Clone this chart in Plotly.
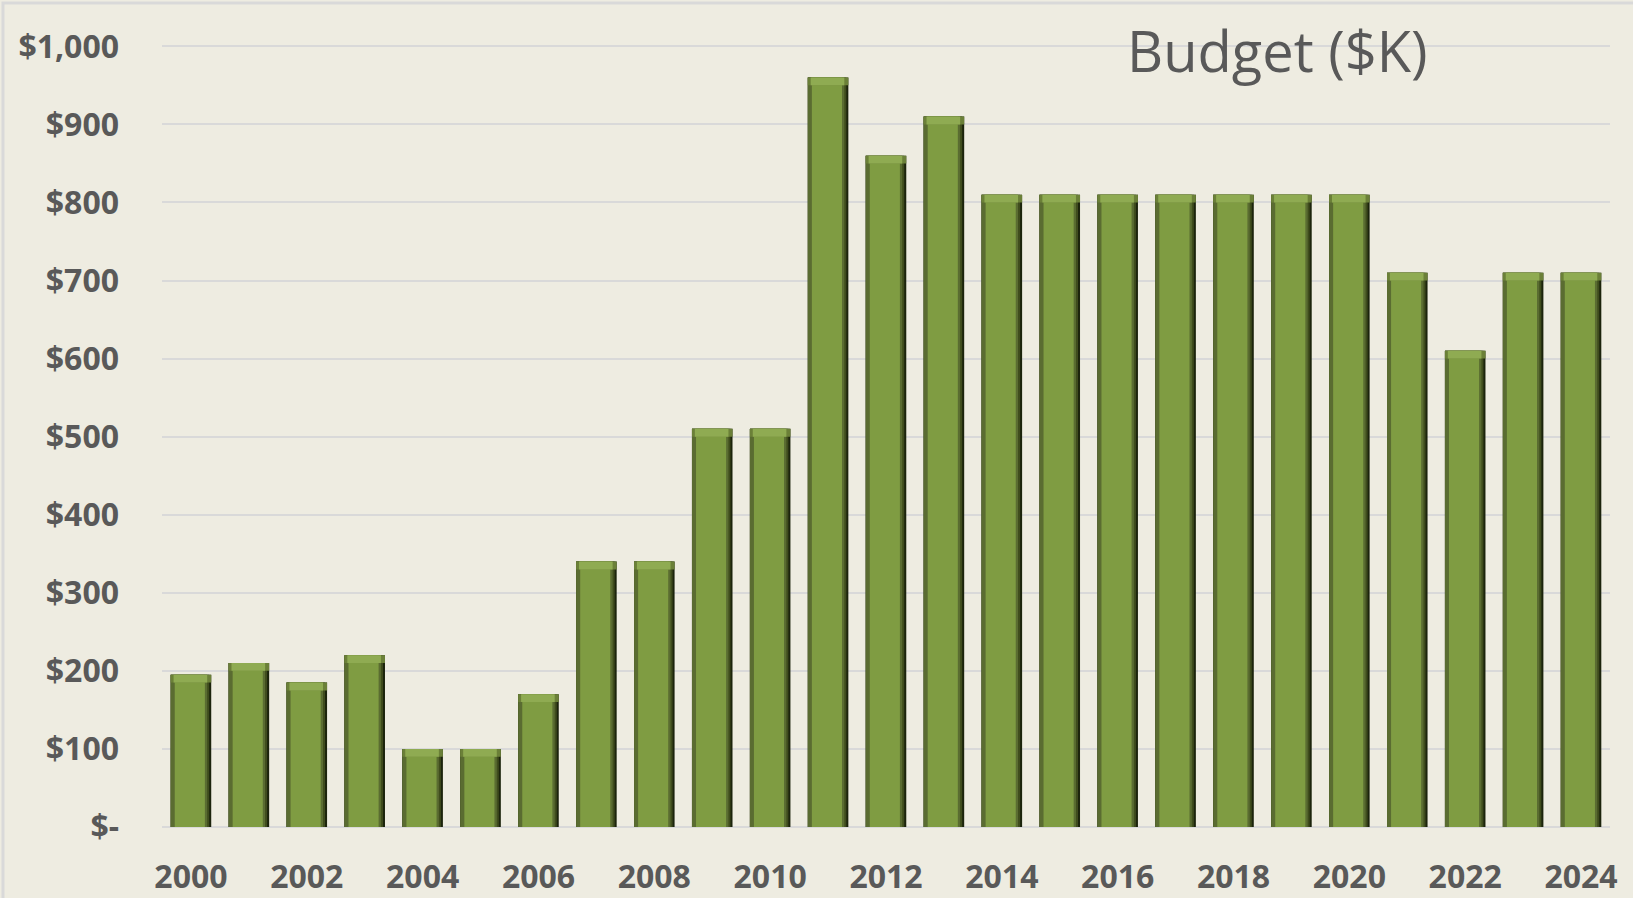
import plotly.graph_objects as go

years = list(range(2000, 2025))
budget = [195, 210, 185, 220, 100, 100, 170, 340, 340, 510, 510, 960, 860, 910,
          810, 810, 810, 810, 810, 810, 810, 710, 610, 710, 710]
y_tickvals = [0, 100, 200, 300, 400, 500, 600, 700, 800, 900, 1000]
y_ticktext = ["$-", "$100", "$200", "$300", "$400", "$500", "$600", "$700", "$800", "$900", "$1,000"]
x_tickvals = list(range(2000, 2025, 2))
title_text = "Budget ($K)"

bevel = 10  # height of top bevel strip in data units
top_base = [v - bevel for v in budget]
top_h = [bevel] * len(budget)

fig = go.Figure()
# layered bars to imitate Excel bevel effect
layers = [
    dict(offset=-0.35, width=0.70, color="#1c240c"),  # darkest right edge
    dict(offset=-0.35, width=0.665, color="#3f4c1d"),
    dict(offset=-0.35, width=0.63, color="#5a6c31"),  # left darker edge
    dict(offset=-0.28, width=0.52, color="#7f9c42"),  # main face
]
for L in layers:
    fig.add_trace(go.Bar(x=years, y=budget, offset=L["offset"], width=L["width"],
                         marker=dict(color=L["color"], line=dict(width=0)),
                         hoverinfo="skip", showlegend=False))
# top bevel strips
fig.add_trace(go.Bar(x=years, y=top_h, base=top_base, offset=-0.35, width=0.70,
                     marker=dict(color="#6b8038", line=dict(width=0)),
                     hoverinfo="skip", showlegend=False))
fig.add_trace(go.Bar(x=years, y=top_h, base=top_base, offset=-0.30, width=0.58,
                     marker=dict(color="#8fab52", line=dict(width=0)),
                     hoverinfo="skip", showlegend=False))

fig.update_layout(
    width=1633, height=898,
    barmode="overlay",
    paper_bgcolor="#eeece1",
    plot_bgcolor="#eeece1",
    margin=dict(l=162, r=23, t=44, b=71),
    font=dict(family="Open Sans, DejaVu Sans, sans-serif", color="#595959"),
    xaxis=dict(range=[1999.5, 2024.5], tickmode="array", tickvals=x_tickvals,
               showgrid=False, zeroline=False, showline=False, ticks="",
               automargin=False,
               tickfont=dict(size=32, weight="bold", color="#595959"),
               ticklabelstandoff=28),
    yaxis=dict(range=[0, 1003], tickmode="array", tickvals=y_tickvals, ticktext=y_ticktext,
               showgrid=True, gridcolor="#d9d9d9", gridwidth=2,
               zeroline=True, zerolinecolor="#d9d9d9", zerolinewidth=2,
               showline=False, ticks="", automargin=False,
               tickfont=dict(size=32, weight="bold", color="#595959"),
               ticklabelstandoff=42),
    annotations=[dict(text=title_text, xref="paper", yref="paper", x=0.770, y=0.992,
                      xanchor="center", yanchor="middle", showarrow=False,
                      font=dict(size=56, color="#595959"))],
    shapes=[dict(type="rect", xref="paper", yref="paper", x0=-0.1098, x1=1.2,
                 y0=-0.5, y1=1.0524, line=dict(color="#d9d9d9", width=3),
                 fillcolor="rgba(0,0,0,0)", layer="below")],
)

fig.write_html("out.html", config={"displayModeBar": False},
               post_script="document.body.style.margin='0';document.body.style.background='#eeece1';document.body.style.overflow='hidden';")
